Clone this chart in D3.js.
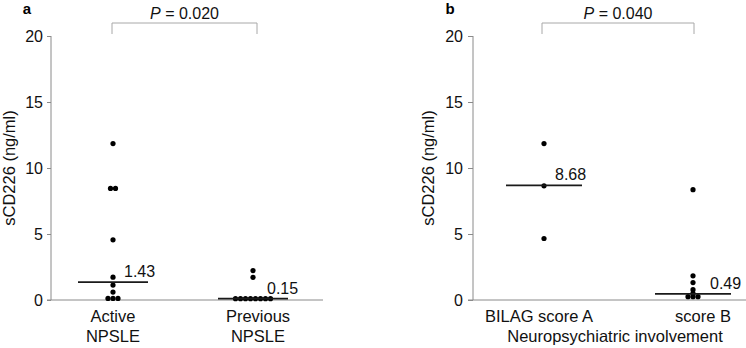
<!DOCTYPE html>
<html>
<head>
<meta charset="utf-8">
<script src="https://cdn.jsdelivr.net/npm/d3@7/dist/d3.min.js"></script>
<style>
  body { margin: 0; background: #fff; }
  svg { display: block; font-family: "Liberation Sans", Arial, sans-serif; }
  .axis path, .axis line { stroke: #8a8a8a; }
  .axis text { font-size: 16px; fill: #111; }
</style>
</head>
<body>
<div id="chart"></div>
<script>
// panel a: NPSLE activity
var groupsA = ["Active NPSLE", "Previous NPSLE"];
var valuesA = [
    [11.85, 8.45, 8.45, 4.56, 1.73, 1.13, 0.6, 0.12, 0.12, 0.12],
    [2.23, 1.72, 0.1, 0.1, 0.1, 0.1, 0.1, 0.1, 0.1, 0.1]
];
var mediansA = [1.35, 0.1];
var medianLabelsA = ["1.43", "0.15"];
var pValueA = "0.020";

// panel b: BILAG score
var groupsB = ["BILAG score A", "score B"];
var valuesB = [
    [11.85, 8.65, 4.66],
    [8.36, 1.83, 1.32, 0.78, 0.5, 0.25, 0.25, 0.25]
];
var mediansB = [8.68, 0.46];
var medianLabelsB = ["8.68", "0.49"];
var pValueB = "0.040";

var yTicks = [0, 5, 10, 15, 20];

var svg = d3.select("#chart").append("svg")
    .attr("width", 746)
    .attr("height", 348);

function drawPanel(cfg) {
    var g = svg.append("g").attr("transform", `translate(${cfg.left},0)`);

    var y = d3.scaleLinear().domain([0, 20]).range([300, 36]);
    var x = d3.scalePoint().domain(cfg.groups).range(cfg.xRange);

    g.append("g")
        .attr("class", "axis")
        .call(d3.axisLeft(y).tickValues(yTicks).tickSize(cfg.tick).tickPadding(cfg.pad).tickSizeOuter(0))
        .call(g => g.select(".domain").attr("d", `M0,${y(0)}V${y(20)}`));

    // baseline
    g.append("line")
        .attr("x1", -cfg.tick).attr("x2", cfg.width)
        .attr("y1", y(0)).attr("y2", y(0))
        .attr("stroke", "#8a8a8a");

    g.append("text")
        .attr("transform", `translate(${-cfg.ylabelOff},${(y(0) + y(20)) / 2}) rotate(-90)`)
        .attr("text-anchor", "middle")
        .style("font-size", "16.5px")
        .attr("fill", "#111")
        .text("sCD226 (ng/ml)");

    g.append("text")
        .attr("x", cfg.letterX).attr("y", 14)
        .style("font-size", "15px").style("font-weight", "bold")
        .attr("text-anchor", "middle")
        .text(cfg.letter);

    // dots, same values spread sideways
    var spacing = 5;
    cfg.values.forEach(function (vals, gi) {
        var counts = d3.rollup(vals, v => v.length, d => d);
        var seen = new Map();
        var pts = vals.map(function (v) {
            var n = counts.get(v);
            var i = seen.get(v) || 0;
            seen.set(v, i + 1);
            return { v: v, dx: (i - (n - 1) / 2) * spacing };
        });
        g.selectAll(".dot" + gi)
            .data(pts)
            .join("circle")
            .attr("cx", d => x(cfg.groups[gi]) + d.dx)
            .attr("cy", d => y(d.v))
            .attr("r", 2.6)
            .attr("fill", "#000");
    });

    // medians
    g.selectAll(".median")
        .data(cfg.medians)
        .join("line")
        .attr("x1", (d, i) => x(cfg.groups[i]) - cfg.medHalf)
        .attr("x2", (d, i) => x(cfg.groups[i]) + cfg.medHalf)
        .attr("y1", d => y(d)).attr("y2", d => y(d))
        .attr("stroke", "#1a1a1a")
        .attr("stroke-width", 1.8);

    g.selectAll(".medLabel")
        .data(cfg.medianLabels)
        .join("text")
        .attr("x", (d, i) => x(cfg.groups[i]) + cfg.labDx[i])
        .attr("y", (d, i) => y(cfg.medians[i]) - 5)
        .style("font-size", "16px")
        .attr("fill", "#111")
        .text(d => d);

    // category labels
    cfg.catLines.forEach(function (lines, gi) {
        var t = g.append("text")
            .attr("text-anchor", "middle")
            .style("font-size", "16.5px")
            .attr("fill", "#111");
        lines.forEach(function (l, li) {
            t.append("tspan")
                .attr("x", x(cfg.groups[gi]) + cfg.catDx[gi])
                .attr("y", 322 + li * 20)
                .text(l);
        });
    });

    if (cfg.title) {
        g.append("text")
            .attr("x", cfg.titleX).attr("y", 342)
            .attr("text-anchor", "middle")
            .style("font-size", "16.5px")
            .attr("fill", "#111")
            .text(cfg.title);
    }

    // significance bracket
    var x1 = x(cfg.groups[0]) + cfg.brDx[0], x2 = x(cfg.groups[1]) + cfg.brDx[1];
    g.append("path")
        .attr("d", `M${x1},34V23H${x2}V34`)
        .attr("fill", "none")
        .attr("stroke", "#a8a8a8");

    var p = g.append("text")
        .attr("x", (x1 + x2) / 2).attr("y", 19)
        .attr("text-anchor", "middle")
        .style("font-size", "16px")
        .attr("fill", "#111");
    p.append("tspan").style("font-style", "italic").text("P");
    p.append("tspan").text(" = " + cfg.p);
}

drawPanel({
    left: 51, width: 272, tick: 4, pad: 4, ylabelOff: 36,
    groups: groupsA, values: valuesA, medians: mediansA, medianLabels: medianLabelsA,
    xRange: [62, 202], medHalf: 35, labDx: [11, 14],
    catLines: [["Active", "NPSLE"], ["Previous", "NPSLE"]], catDx: [0, 5],
    brDx: [-1, 4], p: pValueA, letter: "a", letterX: -24
});

drawPanel({
    left: 473, width: 273, tick: 5, pad: 5, ylabelOff: 39,
    groups: groupsB, values: valuesB, medians: mediansB, medianLabels: medianLabelsB,
    xRange: [71, 220], medHalf: 38, labDx: [11, 17],
    catLines: [["BILAG score A"], ["score B"]], catDx: [-5, 10],
    title: "Neuropsychiatric involvement", titleX: 142,
    brDx: [-2, 1], p: pValueB, letter: "b", letterX: -23
});
</script>
</body>
</html>
